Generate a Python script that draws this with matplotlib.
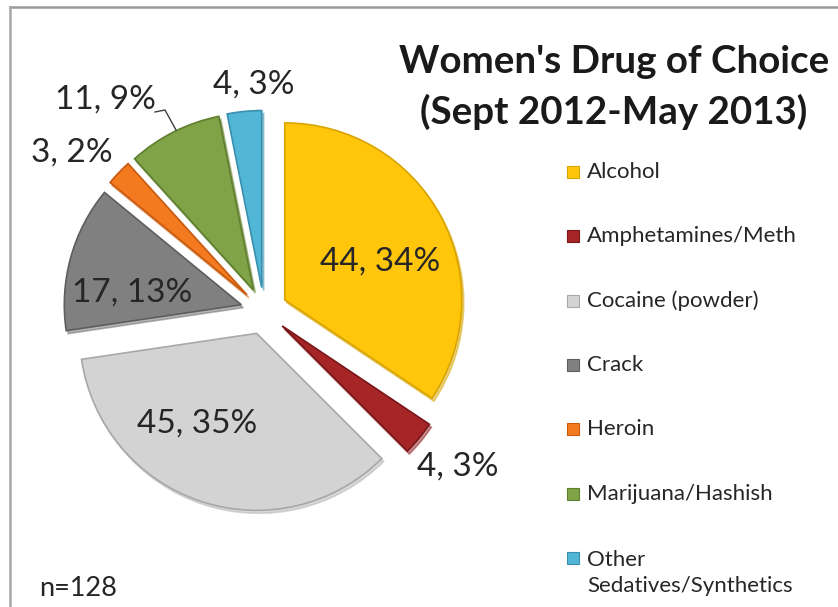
import matplotlib
matplotlib.use("Agg")
import matplotlib.pyplot as plt
from matplotlib.patches import Rectangle
from matplotlib.lines import Line2D

categories = ["Alcohol", "Amphetamines/Meth", "Cocaine (powder)", "Crack", "Heroin",
              "Marijuana/Hashish", "Other\nSedatives/Synthetics"]
counts = [44, 4, 45, 17, 3, 11, 4]
percents = [34, 3, 35, 13, 2, 9, 3]
colors = ["#FFC60B", "#A62628", "#D3D3D3", "#808080", "#F47A20", "#7FA346", "#52B6D6"]
edges = ["#D9A400", "#7A1618", "#A8A8A8", "#5E5E5E", "#C85A10", "#5E7F2E", "#3A8FAE"]

W, H = 838, 607
fig = plt.figure(figsize=(W / 100, H / 100), dpi=100)
fig.patch.set_facecolor("white")

# pie geometry in pixels (from top-left)
cx, cy, r = 264, 311, 177
ax = fig.add_axes([0, 0, 1, 1])
wedges, _ = ax.pie(counts, colors=colors, startangle=90, counterclock=False,
                   explode=[0.133] * len(counts), radius=1.0, center=(0, 0),
                   wedgeprops=dict(linewidth=1.2),
                   shadow={"ox": 0.008, "oy": -0.012, "shade": 0.15})
for w, ec in zip(wedges, edges):
    w.set_edgecolor(ec)
ax.set_xlim(-cx / r, (W - cx) / r)
ax.set_ylim(-(H - cy) / r, cy / r)
ax.set_aspect("auto")
ax.axis("off")

def px(x, y):
    return x / W, 1 - y / H

fam = ["Lato", "DejaVu Sans"]
lab_col = "#262626"

# data labels
label_pos = [(380, 262), (458, 467), (197, 424), (132, 293), (72, 153), (105, 100), (254, 85)]
for (x, y), c, p in zip(label_pos, counts, percents):
    fig.text(*px(x, y), f"{c}, {p}%", ha="center", va="center", fontsize=24,
             family=fam, color=lab_col)
# leader line for marijuana label
fig.add_artist(Line2D([155 / W, 165 / W, 176 / W], [1 - 112 / H, 1 - 110 / H, 1 - 130 / H],
                      color="#404040", lw=1.0))

# title
fig.text(*px(614, 62), "Women's Drug of Choice", ha="center", va="center",
         fontsize=27.7, fontweight="bold", family=fam, color="#1a1a1a")
fig.text(*px(614, 112), "(Sept 2012-May 2013)", ha="center", va="center",
         fontsize=27.7, fontweight="bold", family=fam, color="#1a1a1a")

# legend
ly0, lsp = 172, 64.3
for i, (cat, col, ec) in enumerate(zip(categories, colors, edges)):
    y = ly0 + i * lsp
    fig.add_artist(Rectangle(px(567, y + 6), 12 / W, 12 / H, facecolor=col,
                             edgecolor=ec, lw=0.8))
    ty = y + 15 if "\n" in cat else y
    fig.text(*px(587, ty), cat, ha="left", va="center", fontsize=16,
             family=fam, color=lab_col, linespacing=1.35)

fig.text(*px(78, 588), "n=128", ha="center", va="center", fontsize=19.5,
         family=fam, color=lab_col)

# frame lines
fig.add_artist(Line2D([10 / W, 1], [1 - 7 / H, 1 - 7 / H], color="#9a9a9a", lw=1.8))
fig.add_artist(Line2D([10 / W, 10 / W], [0, 1 - 7 / H], color="#a8a8a8", lw=1.8))

fig.savefig("out.png", dpi=100)
